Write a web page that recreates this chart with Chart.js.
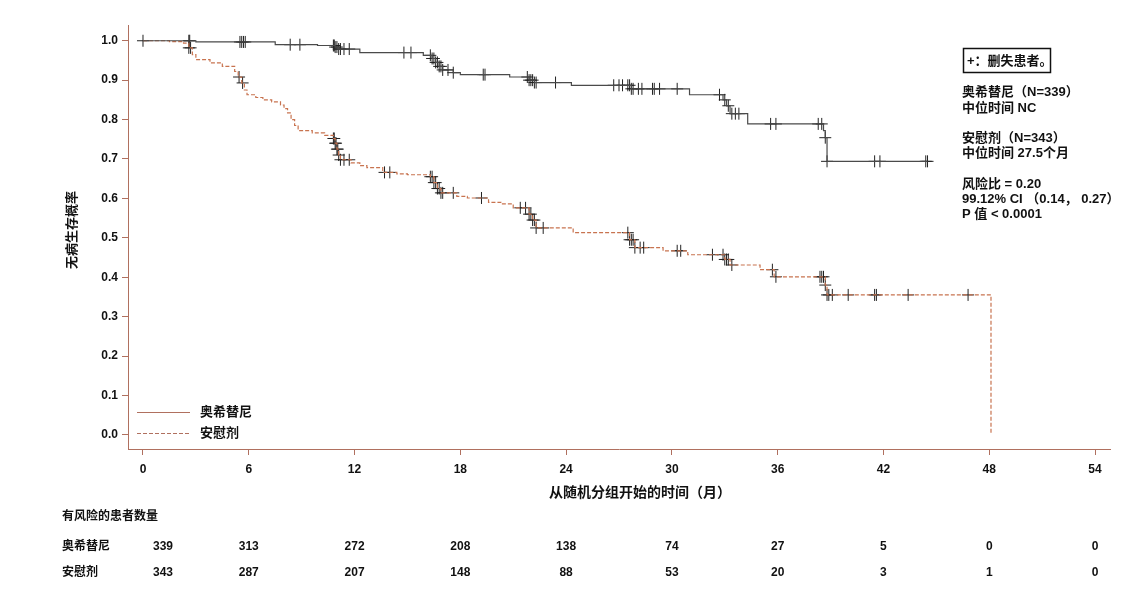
<!DOCTYPE html>
<html lang="zh">
  <head>
    <meta charset="UTF-8" />
    <title>无病生存概率</title>
    <script src="https://cdn.jsdelivr.net/npm/chart.js@4.4.1/dist/chart.umd.min.js"></script>
    <style>
      html, body { margin: 0; padding: 0; background: #fff; }
    </style>
  </head>
  <body>
    <canvas id="myChart" width="1144" height="600"></canvas>
    <script>
      // KM steps: time (months) and survival after the drop at that time
      const osimT = [0, 3.0, 7.5, 9.9, 10.9, 11.1, 12.3, 15.9, 16.4, 16.6, 16.8, 17.0, 17.6, 18.0, 20.8, 21.9, 22.2, 24.3, 27.7, 31.0, 32.9, 33.1, 33.3, 34.3, 38.6, 38.7, 38.8, 44.5];
      const osimS = [1.0, 0.997, 0.99, 0.988, 0.984, 0.979, 0.97, 0.963, 0.955, 0.945, 0.935, 0.926, 0.919, 0.914, 0.908, 0.9, 0.894, 0.887, 0.878, 0.863, 0.85, 0.835, 0.815, 0.789, 0.772, 0.754, 0.694, 0.694];

      const placeboT = [0, 1.5, 2.3, 2.6, 2.8, 3.0, 3.8, 4.5, 5.2, 5.4, 5.6, 5.75, 5.9, 6.4, 6.8, 7.3, 7.8, 8.0, 8.2, 8.4, 8.6, 8.8, 9.6, 10.3, 10.8, 10.9, 11.0, 11.1, 11.2, 11.8, 12.3, 12.7, 13.6, 14.4, 15.0, 16.3, 16.5, 16.7, 16.9, 17.8, 18.4, 19.6, 20.3, 21.0, 21.9, 22.1, 22.3, 24.4, 27.6, 27.9, 29.5, 30.9, 33.0, 33.3, 35.0, 35.8, 38.7, 38.8, 48.1, 48.1];
      const placeboS = [1.0, 0.998, 0.994, 0.982, 0.965, 0.952, 0.944, 0.935, 0.922, 0.908, 0.893, 0.875, 0.863, 0.856, 0.85, 0.845, 0.837, 0.828, 0.817, 0.8, 0.785, 0.772, 0.766, 0.76, 0.752, 0.74, 0.725, 0.71, 0.698, 0.69, 0.683, 0.678, 0.666, 0.662, 0.66, 0.655, 0.64, 0.625, 0.614, 0.605, 0.601, 0.59, 0.586, 0.576, 0.56, 0.545, 0.525, 0.513, 0.495, 0.475, 0.467, 0.457, 0.445, 0.431, 0.419, 0.401, 0.38, 0.355, 0.355, 0.0];

      // censored patients (months)
      const osimCensor = [0, 2.6, 2.65, 5.5, 5.6, 5.7, 5.8, 8.35, 8.9, 10.8, 10.85, 10.9, 11.0, 11.1, 11.2, 11.4, 11.7, 14.8, 15.2, 16.3, 16.4, 16.5, 16.6, 16.7, 16.8, 16.9, 17.0, 17.3, 17.6, 19.3, 19.4, 21.8, 21.9, 22.0, 22.1, 22.2, 22.3, 23.4, 26.7, 27.0, 27.2, 27.5, 27.6, 27.7, 27.8, 28.1, 28.3, 28.9, 29.0, 29.3, 30.3, 32.7, 33.0, 33.2, 33.4, 33.6, 33.8, 35.6, 35.9, 38.3, 38.5, 38.7, 38.8, 41.5, 41.8, 44.4, 44.5];
      const placeboCensor = [2.6, 2.7, 5.45, 5.65, 10.8, 10.85, 10.9, 10.95, 11.0, 11.05, 11.1, 11.2, 11.4, 11.7, 13.7, 14.0, 16.3, 16.4, 16.5, 16.6, 16.7, 16.8, 16.9, 17.0, 17.6, 19.2, 21.4, 21.7, 21.9, 22.0, 22.1, 22.2, 22.3, 22.7, 27.5, 27.6, 27.7, 27.8, 27.9, 28.2, 28.4, 30.3, 30.5, 32.3, 32.9, 33.0, 33.1, 33.2, 33.4, 35.7, 35.9, 38.4, 38.5, 38.6, 38.7, 38.8, 38.9, 39.1, 40.0, 41.5, 41.6, 43.4, 46.8];

      const xTicks = [0, 6, 12, 18, 24, 30, 36, 42, 48, 54];
      const yTicks = [0, 0.1, 0.2, 0.3, 0.4, 0.5, 0.6, 0.7, 0.8, 0.9, 1.0];
      const riskOsim = [339, 313, 272, 208, 138, 74, 27, 5, 0, 0];
      const riskPlacebo = [343, 287, 207, 148, 88, 53, 20, 3, 1, 0];

      const FONT = "'Liberation Sans', 'Noto Sans CJK SC', sans-serif";
      const axisColor = "#b0705f";

      function stepAt(ts, ss, t) {
        let v = ss[0];
        for (let i = 0; i < ts.length; i++) {
          if (ts[i] <= t) v = ss[i];
        }
        return v;
      }

      const textPlugin = {
        id: "texts",
        afterDraw(chart) {
          const c = chart.ctx;
          const xs = chart.scales.x;
          c.save();
          c.fillStyle = "#111";
          c.textBaseline = "middle";

          // y title
          c.save();
          c.translate(72, 230);
          c.rotate(-Math.PI / 2);
          c.textAlign = "center";
          c.font = "bold 13px " + FONT;
          c.fillText("无病生存概率", 0, 0);
          c.restore();

          // x title
          c.textAlign = "center";
          c.font = "bold 14px " + FONT;
          c.fillText("从随机分组开始的时间（月）", 640, 493);

          // legend inside plot
          c.strokeStyle = axisColor;
          c.lineWidth = 1;
          c.beginPath();
          c.moveTo(137, 412.5);
          c.lineTo(190, 412.5);
          c.stroke();
          c.setLineDash([4, 2]);
          c.beginPath();
          c.moveTo(137, 433.5);
          c.lineTo(190, 433.5);
          c.stroke();
          c.setLineDash([]);
          c.textAlign = "left";
          c.font = "bold 13px " + FONT;
          c.fillText("奥希替尼", 200, 412);
          c.fillText("安慰剂", 200, 433);

          // annotation box
          c.strokeStyle = "#111";
          c.lineWidth = 1.5;
          c.strokeRect(963.5, 48.5, 87, 24);
          c.font = "bold 13px " + FONT;
          c.fillText("+：删失患者。", 967, 61);
          const notes = [
            ["奥希替尼（N=339）", 92],
            ["中位时间 NC", 108],
            ["安慰剂（N=343）", 138],
            ["中位时间 27.5个月", 153],
            ["风险比 = 0.20", 184],
            ["99.12% CI （0.14， 0.27）", 199],
            ["P 值 < 0.0001", 214],
          ];
          notes.forEach(([s, y]) => c.fillText(s, 962, y));

          // number at risk
          c.font = "bold 12px " + FONT;
          c.fillText("有风险的患者数量", 62, 517);
          c.fillText("奥希替尼", 62, 547);
          c.fillText("安慰剂", 62, 573);
          c.textAlign = "center";
          xTicks.forEach((t, i) => {
            let px = xs.getPixelForValue(t);
            if (i === 0) px += 20;
            c.fillText(String(riskOsim[i]), px, 547);
            c.fillText(String(riskPlacebo[i]), px, 573);
          });
          c.restore();
        },
      };

      const ctx = document.getElementById("myChart");
      new Chart(ctx, {
        type: "line",
        data: {
          datasets: [
            {
              label: "奥希替尼",
              data: osimT.map((t, i) => ({ x: t, y: osimS[i] })),
              stepped: true,
              borderColor: "#4a4a4a",
              borderWidth: 1.2,
              pointRadius: 0,
              fill: false,
            },
            {
              label: "安慰剂",
              data: placeboT.map((t, i) => ({ x: t, y: placeboS[i] })),
              stepped: true,
              borderColor: "#c8734f",
              borderDash: [4, 2],
              borderWidth: 1.2,
              pointRadius: 0,
              fill: false,
            },
            {
              label: "censor1",
              data: osimCensor.map((t) => ({ x: t, y: stepAt(osimT, osimS, t) })),
              showLine: false,
              pointStyle: "cross",
              pointRadius: 6,
              pointBorderColor: "#222",
              pointBorderWidth: 1,
            },
            {
              label: "censor2",
              data: placeboCensor.map((t) => ({ x: t, y: stepAt(placeboT, placeboS, t) })),
              showLine: false,
              pointStyle: "cross",
              pointRadius: 6,
              pointBorderColor: "#222",
              pointBorderWidth: 1,
            },
          ],
        },
        options: {
          responsive: false,
          animation: false,
          layout: { padding: { left: 0, right: 34, top: 25, bottom: 0 } },
          plugins: { legend: { display: false }, tooltip: { enabled: false } },
          scales: {
            x: {
              type: "linear",
              min: -0.85,
              max: 54.85,
              afterBuildTicks: (a) => { a.ticks = xTicks.map((v) => ({ value: v })); },
              afterFit: (s) => { s.height = 151; },
              grid: { drawOnChartArea: false, color: axisColor, tickLength: 6 },
              border: { color: axisColor, width: 1 },
              ticks: {
                color: "#111",
                padding: 7,
                maxRotation: 0,
                font: { family: FONT, size: 12, weight: "bold" },
              },
            },
            y: {
              type: "linear",
              min: -0.036,
              max: 1.04,
              afterBuildTicks: (a) => { a.ticks = yTicks.map((v) => ({ value: v })); },
              afterFit: (s) => { s.width = 128; },
              grid: { drawOnChartArea: false, color: axisColor, tickLength: 6 },
              border: { color: axisColor, width: 1 },
              ticks: {
                color: "#111",
                padding: 4,
                callback: (v) => Number(v).toFixed(1),
                font: { family: FONT, size: 12, weight: "bold" },
              },
            },
          },
        },
        plugins: [textPlugin],
      });
    </script>
  </body>
</html>
